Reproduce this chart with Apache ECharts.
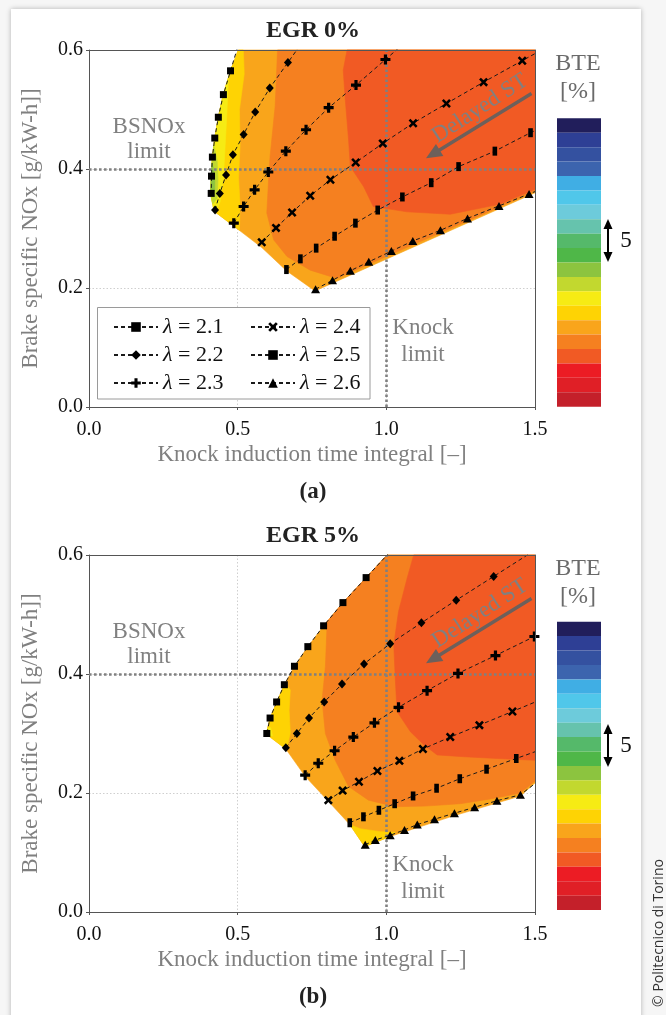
<!DOCTYPE html>
<html><head><meta charset="utf-8">
<script src="https://cdn.jsdelivr.net/npm/echarts@6/dist/echarts.min.js"></script>
<style>
html,body{margin:0;padding:0;width:666px;height:1015px;overflow:hidden;background:#f6f6f6;}
#card{position:absolute;left:11px;top:9px;width:630px;height:1012px;background:#fff;box-shadow:0 0 5px rgba(0,0,0,0.28);}
#chart{position:absolute;left:0;top:0;width:666px;height:1015px;}
</style></head><body>
<div id="card"></div><div id="chart"></div>
<script>
// ---------------- DATA ----------------
const lambdaNames = ['2.1', '2.2', '2.3', '2.4', '2.5', '2.6'];
const xTicks = [0, 0.5, 1.0, 1.5];
const yTicks = [0, 0.2, 0.4, 0.6];
const bsnoxLimit = 0.4;
const knockLimit = 1.0;

// EGR 0% : [knock integral, BSNOx]
const egr0_l21 = [[0.500,0.605],[0.476,0.565],[0.452,0.525],[0.435,0.487],[0.423,0.452],[0.415,0.420],[0.412,0.388],[0.411,0.359]];
const egr0_l22 = [[0.424,0.331],[0.440,0.359],[0.461,0.390],[0.484,0.424],[0.520,0.458],[0.559,0.496],[0.608,0.536],[0.669,0.579],[0.730,0.622]];
const egr0_l23 = [[0.487,0.309],[0.520,0.337],[0.557,0.365],[0.603,0.395],[0.662,0.430],[0.730,0.466],[0.806,0.503],[0.898,0.541],[0.997,0.584],[1.096,0.627]];
const egr0_l24 = [[0.581,0.277],[0.629,0.301],[0.683,0.327],[0.744,0.355],[0.812,0.382],[0.897,0.411],[0.988,0.443],[1.090,0.477],[1.202,0.510],[1.327,0.546],[1.457,0.582],[1.587,0.618]];
const egr0_l25 = [[0.664,0.231],[0.711,0.249],[0.764,0.267],[0.826,0.287],[0.896,0.309],[0.971,0.331],[1.054,0.353],[1.151,0.377],[1.243,0.404],[1.365,0.430],[1.485,0.461],[1.600,0.487]];
const egr0_l26 = [[0.762,0.198],[0.819,0.213],[0.879,0.229],[0.941,0.244],[1.017,0.262],[1.089,0.279],[1.182,0.297],[1.273,0.317],[1.379,0.338],[1.480,0.358],[1.580,0.378]];

// EGR 5%
const egr5_l21 = [[1.010,0.604],[0.932,0.562],[0.854,0.520],[0.789,0.481],[0.736,0.446],[0.691,0.413],[0.657,0.382],[0.631,0.353],[0.609,0.326],[0.598,0.300]];
const egr5_l22 = [[0.662,0.276],[0.699,0.300],[0.740,0.326],[0.791,0.353],[0.851,0.383],[0.925,0.417],[1.013,0.451],[1.118,0.486],[1.235,0.524],[1.361,0.564],[1.487,0.604]];
const egr5_l23 = [[0.727,0.230],[0.771,0.250],[0.826,0.271],[0.889,0.294],[0.960,0.318],[1.041,0.344],[1.137,0.372],[1.241,0.401],[1.367,0.431],[1.498,0.463],[1.630,0.495]];
const egr5_l24 = [[0.805,0.188],[0.853,0.204],[0.908,0.219],[0.970,0.237],[1.044,0.254],[1.123,0.274],[1.215,0.294],[1.313,0.314],[1.424,0.337],[1.535,0.360]];
const egr5_l25 = [[0.877,0.150],[0.923,0.160],[0.975,0.171],[1.028,0.182],[1.090,0.195],[1.169,0.208],[1.247,0.224],[1.337,0.240],[1.437,0.258],[1.537,0.276]];
const egr5_l26 = [[0.929,0.113],[0.963,0.121],[1.013,0.129],[1.061,0.138],[1.104,0.147],[1.162,0.156],[1.229,0.166],[1.297,0.176],[1.372,0.187],[1.451,0.197],[1.550,0.235]];

// BTE colour bands (level 1 = lowest, bottom of colour bar)
const bteBandColors = ['#c4202a','#e01f26','#ec1c24','#f15a24','#f58020','#f9a51b','#fed304','#f6eb14','#c2d82f','#8cc43f',
                       '#4fb748','#55b96a','#66c3ad','#6dcbdb','#50c7ea','#40aee4','#3c64ae','#3451a0','#2e3f95','#211e5b'];

// BTE contour regions (band level + outline in data coordinates), EGR 0%
const egr0_regionLevels = [6, 7, 8, 9, 10, 5, 4];
const egr0_regions = [
  [[0.502,0.600],[0.476,0.565],[0.452,0.526],[0.435,0.487],[0.423,0.452],[0.415,0.420],[0.411,0.388],[0.409,0.359],[0.421,0.329],[0.487,0.304],[0.581,0.268],[0.664,0.229],[0.760,0.195],[1.500,0.360],[1.500,0.600]],
  [[0.502,0.600],[0.519,0.600],[0.522,0.560],[0.506,0.500],[0.508,0.440],[0.503,0.385],[0.508,0.340],[0.506,0.297],[0.487,0.304],[0.421,0.329],[0.409,0.359],[0.411,0.388],[0.415,0.420],[0.423,0.452],[0.435,0.487],[0.452,0.526],[0.476,0.565]],
  [[0.481,0.573],[0.469,0.552],[0.464,0.496],[0.458,0.440],[0.452,0.385],[0.441,0.345],[0.427,0.327],[0.421,0.329],[0.409,0.359],[0.411,0.388],[0.415,0.420],[0.423,0.452],[0.435,0.487],[0.452,0.526],[0.476,0.565]],
  [[0.420,0.440],[0.431,0.415],[0.434,0.382],[0.431,0.351],[0.416,0.341],[0.409,0.359],[0.411,0.388],[0.415,0.420]],
  [[0.414,0.410],[0.423,0.390],[0.423,0.365],[0.411,0.354],[0.409,0.359],[0.411,0.388]],
  [[0.634,0.600],[1.500,0.600],[1.500,0.363],[1.316,0.322],[1.114,0.278],[0.946,0.241],[0.834,0.216],[0.744,0.230],[0.666,0.253],[0.621,0.281],[0.598,0.326],[0.604,0.382],[0.609,0.421],[0.626,0.505],[0.630,0.550]],
  [[0.868,0.600],[1.500,0.600],[1.500,0.366],[1.384,0.341],[1.215,0.324],[1.070,0.328],[0.956,0.337],[0.924,0.370],[0.879,0.404],[0.873,0.449],[0.862,0.516],[0.855,0.566]]
];

// EGR 5%
const egr5_regionLevels = [6, 7, 8, 7, 5, 4];
const egr5_regions = [
  [[1.002,0.600],[0.932,0.562],[0.854,0.520],[0.789,0.481],[0.736,0.446],[0.691,0.413],[0.657,0.382],[0.631,0.352],[0.609,0.326],[0.596,0.299],[0.662,0.274],[0.727,0.228],[0.805,0.186],[0.877,0.147],[0.927,0.110],[1.013,0.127],[1.229,0.162],[1.451,0.195],[1.500,0.217],[1.500,0.600]],
  [[0.660,0.385],[0.677,0.373],[0.673,0.339],[0.677,0.301],[0.665,0.274],[0.662,0.274],[0.596,0.299],[0.609,0.326],[0.631,0.352],[0.657,0.382]],
  [[0.601,0.309],[0.611,0.310],[0.617,0.296],[0.598,0.299]],
  [[0.877,0.147],[0.912,0.140],[0.980,0.135],[1.030,0.134],[1.013,0.127],[0.927,0.110]],
  [[1.002,0.600],[1.500,0.600],[1.500,0.220],[1.451,0.200],[1.350,0.190],[1.249,0.182],[1.131,0.178],[1.030,0.177],[0.940,0.188],[0.873,0.211],[0.828,0.255],[0.795,0.300],[0.784,0.356],[0.795,0.412],[0.800,0.474],[0.789,0.481],[0.854,0.520],[0.932,0.562]],
  [[1.092,0.600],[1.500,0.600],[1.500,0.255],[1.373,0.258],[1.260,0.261],[1.171,0.264],[1.126,0.281],[1.081,0.303],[1.036,0.337],[1.030,0.393],[1.025,0.449],[1.041,0.505],[1.070,0.561]]
];

// ---------------- STYLE ----------------
const SERIF = '"Liberation Serif", "DejaVu Serif", serif';
const GREY = '#808080';
const symbols = [
  {symbol: 'rect', size: [7, 7]},
  {symbol: 'diamond', size: [8, 9]},
  {symbol: 'path://M3.4,0H6.6V3.4H10V6.6H6.6V10H3.4V6.6H0V3.4H3.4Z', size: [10, 10]},
  {symbol: 'path://M0,2L2,0L5,3L8,0L10,2L7,5L10,8L8,10L5,7L2,10L0,8L3,5Z', size: [9, 9]},
  {symbol: 'rect', size: [4.6, 9]},
  {symbol: 'triangle', size: [9, 8]}
];
const panels = [
  {lines: [egr0_l21, egr0_l22, egr0_l23, egr0_l24, egr0_l25, egr0_l26], regions: egr0_regions, levels: egr0_regionLevels, top: 50},
  {lines: [egr5_l21, egr5_l22, egr5_l23, egr5_l24, egr5_l25, egr5_l26], regions: egr5_regions, levels: egr5_regionLevels, top: 555}
];
const plotH = 357;

const chart = echarts.init(document.getElementById('chart'), null, {renderer: 'canvas'});

const grids = [], xAxes = [], yAxes = [], series = [], visualMaps = [];
panels.forEach((p, k) => {
  grids.push({left: 89, top: p.top, width: 446, height: plotH, outerBoundsMode: 'none'});
  xAxes.push({
    type: 'value', gridIndex: k, min: xTicks[0], max: xTicks[xTicks.length - 1], interval: 0.5,
    axisLine: {show: true, onZero: false, lineStyle: {color: '#555', width: 1}},
    axisTick: {show: true, length: 3, lineStyle: {color: '#555'}},
    axisLabel: {margin: 13, color: '#111', fontSize: 20, fontFamily: SERIF, formatter: v => v.toFixed(1)},
    splitLine: {show: true, lineStyle: {color: '#cfcfcf', width: 1, type: [1.5, 2]}},
    name: 'Knock induction time integral [–]', nameLocation: 'middle', nameGap: 36,
    nameTextStyle: {color: GREY, fontSize: 23, fontFamily: SERIF}
  });
  xAxes.push({
    type: 'value', gridIndex: k, position: 'top', min: 0, max: 1.5, z: 10,
    axisLine: {show: true, onZero: false, lineStyle: {color: '#555', width: 1}},
    axisTick: {show: false}, axisLabel: {show: false}, splitLine: {show: false}
  });
  yAxes.push({
    type: 'value', gridIndex: k, min: yTicks[0], max: yTicks[yTicks.length - 1], interval: 0.2,
    axisLine: {show: true, onZero: false, lineStyle: {color: '#555', width: 1}},
    axisTick: {show: true, length: 3, lineStyle: {color: '#555'}},
    axisLabel: {margin: 6, color: '#111', fontSize: 20, fontFamily: SERIF, formatter: v => v.toFixed(1)},
    splitLine: {show: true, lineStyle: {color: '#cfcfcf', width: 1, type: [1.5, 2]}},
    name: 'Brake specific NOx [g/kW-h]]', nameLocation: 'middle', nameGap: 47,
    nameTextStyle: {color: GREY, fontSize: 23, fontFamily: SERIF}
  });
  yAxes.push({
    type: 'value', gridIndex: k, position: 'right', min: 0, max: 0.6, z: 10,
    axisLine: {show: true, onZero: false, lineStyle: {color: '#555', width: 1}},
    axisTick: {show: false}, axisLabel: {show: false}, splitLine: {show: false}
  });
});

// contour fills (custom series coloured by visualMap)
panels.forEach((p, k) => {
  series.push({
    type: 'custom', coordinateSystem: 'cartesian2d', xAxisIndex: 2 * k, yAxisIndex: 2 * k,
    silent: true, z: 2,
    dimensions: ['bte', 'region'],
    data: p.levels.map((lv, i) => [lv, i]),
    renderItem: function (params, api) {
      const poly = p.regions[api.value(1)];
      const pts = poly.map(pt => api.coord(pt));
      const c = api.visual('color');
      return {type: 'polygon', shape: {points: pts}, style: {fill: c, stroke: c, lineWidth: 0.6}};
    },
    markLine: {
      silent: true, symbol: ['none', 'none'], label: {show: false}, z: 4,
      lineStyle: {color: GREY, width: 2.6, type: [2.6, 2.4]},
      emphasis: {disabled: true},
      data: [{yAxis: bsnoxLimit}, {xAxis: knockLimit}]
    }
  });
});
// lambda lines
panels.forEach((p, k) => {
  p.lines.forEach((d, j) => {
    series.push({
      type: 'line', name: lambdaNames[j], xAxisIndex: 2 * k, yAxisIndex: 2 * k,
      data: d, z: 6, silent: true, clip: true,
      symbol: symbols[j].symbol, symbolSize: symbols[j].size,
      showAllSymbol: true,
      lineStyle: {color: '#1a1a1a', width: 1, type: [4, 3]},
      itemStyle: {color: '#000'},
      emphasis: {disabled: true}
    });
  });
});

panels.forEach((p, k) => {
  visualMaps.push({
    type: 'piecewise', seriesIndex: k, dimension: 0, orient: 'vertical',
    left: 557, top: k === 0 ? 118.3 : 621.7, padding: 0,
    itemWidth: 44, itemHeight: 14.42, itemGap: 0, itemSymbol: 'rect',
    showLabel: false, selectedMode: false, hoverLink: false,
    pieces: bteBandColors.map((c, i) => ({value: i + 1, color: c}))
  });
});

const legendText = {fontSize: 22, fontFamily: SERIF, color: '#111', lineHeight: 21, rich: {i: {fontStyle: 'italic', fontSize: 22, fontFamily: SERIF}}};
const legendCommon = {
  orient: 'vertical', itemWidth: 44, itemHeight: 12, itemGap: 6, padding: 0, selectedMode: false, z: 5,
  textStyle: legendText, formatter: n => '{i|λ} = ' + n
};

// annotations
const graphics = [];
function txt(x, y, text, font, fill, extra) {
  graphics.push(Object.assign({type: 'text', x: x, y: y, z: 20, silent: true,
    style: {text: text, font: font, fill: fill, align: 'center', verticalAlign: 'middle'}}, extra || {}));
}
function arrowLine(x1, y1, x2, y2, color, w, headL, headW) {
  const dx = x2 - x1, dy = y2 - y1, L = Math.hypot(dx, dy), ux = dx / L, uy = dy / L;
  const bx = x2 - ux * headL, by = y2 - uy * headL;
  graphics.push({type: 'line', z: 20, silent: true, shape: {x1: x1, y1: y1, x2: bx + ux * 2, y2: by + uy * 2}, style: {stroke: color, lineWidth: w}});
  graphics.push({type: 'polygon', z: 20, silent: true, shape: {points: [[x2, y2], [bx - uy * headW, by + ux * headW], [bx + uy * headW, by - ux * headW]]}, style: {fill: color}});
}
const offs = [0, 505];
txt(313, 31, 'EGR 0%', 'bold 24px ' + SERIF, '#222');
txt(313, 492, '(a)', 'bold 23px ' + SERIF, '#222');
txt(313, 536, 'EGR 5%', 'bold 24px ' + SERIF, '#222');
txt(313, 997, '(b)', 'bold 23px ' + SERIF, '#222');
offs.forEach((o, k) => {
  txt(149, 139.5 + o, 'BSNOx\nlimit', '23px ' + SERIF, GREY, {style: {text: 'BSNOx\nlimit', font: '23px ' + SERIF, fill: GREY, align: 'center', verticalAlign: 'middle', lineHeight: 25}});
  const ky = k === 0 ? 341.5 : 878;
  txt(423, ky, 'Knock\nlimit', '23px ' + SERIF, GREY, {style: {text: 'Knock\nlimit', font: '23px ' + SERIF, fill: GREY, align: 'center', verticalAlign: 'middle', lineHeight: 27}});
  txt(480, 108.5 + o, 'Delayed ST', '23px ' + SERIF, GREY, {rotation: 33 * Math.PI / 180});
  arrowLine(531.5, 93.5 + o, 426, 158.3 + o, '#6d605b', 3.4, 16, 7);
  // colour bar title and scale arrow
  txt(578, 64 + o, 'BTE', '24px ' + SERIF, '#6a6a6a');
  txt(578, 92 + o, '[%]', '24px ' + SERIF, '#6a6a6a');
  const ay1 = 219 + o, ay2 = 262 + o;
  graphics.push({type: 'line', z: 20, silent: true, shape: {x1: 608, y1: ay1 + 8, x2: 608, y2: ay2 - 8}, style: {stroke: '#000', lineWidth: 2}});
  graphics.push({type: 'polygon', z: 20, silent: true, shape: {points: [[608, ay1], [603.5, ay1 + 10], [612.5, ay1 + 10]]}, style: {fill: '#000'}});
  graphics.push({type: 'polygon', z: 20, silent: true, shape: {points: [[608, ay2], [603.5, ay2 - 10], [612.5, ay2 - 10]]}, style: {fill: '#000'}});
  txt(626, 240.5 + o, '5', '23px ' + SERIF, '#111');
});
// legend frame
graphics.push({type: 'rect', z: 3, silent: true, shape: {x: 97.5, y: 307.5, width: 272.5, height: 91.5}, style: {fill: '#fff', stroke: '#9a9a9a', lineWidth: 1}});
// copyright
graphics.push({type: 'text', x: 659, y: 933, rotation: Math.PI / 2, z: 20, silent: true,
  style: {text: '© Politecnico di Torino', font: '14px "Open Sans", "DejaVu Sans", sans-serif', fill: '#333', align: 'center', verticalAlign: 'middle'}});

chart.setOption({
  animation: false,
  backgroundColor: 'transparent',
  grid: grids, xAxis: xAxes, yAxis: yAxes,
  visualMap: visualMaps,
  legend: [
    Object.assign({data: lambdaNames.slice(0, 3), left: 113, top: 316}, legendCommon),
    Object.assign({data: lambdaNames.slice(3, 6), left: 250, top: 316}, legendCommon)
  ],
  series: series,
  graphic: graphics
});
</script></body></html>
